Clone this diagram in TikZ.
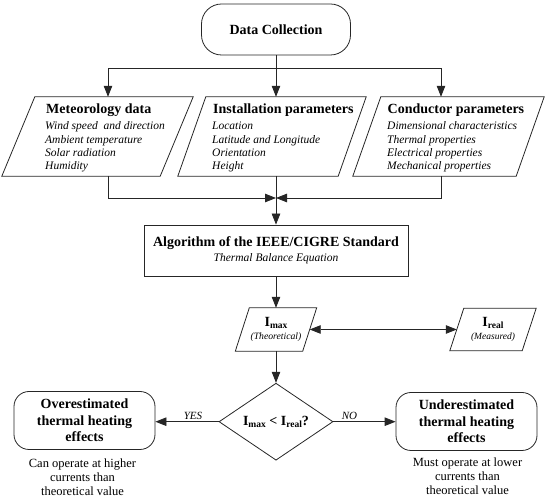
\documentclass[tikz,border=0pt]{standalone}
\usepackage{fontspec}
\setmainfont{Liberation Serif}
\usetikzlibrary{arrows.meta,shapes.geometric,calc}
\newcommand{\ttlfont}{\fontsize{14}{16.5}\selectfont\bfseries}
\newcommand{\itmfont}{\fontsize{11.5}{13.4}\selectfont\itshape}
\newcommand{\lowsub}[1]{\raisebox{-0.3ex}{\fontsize{9.5}{10}\selectfont\bfseries #1}}
\newcommand{\drawpara}[2]{\draw[line] ([xshift=#2]#1.north west) -- (#1.north east) -- ([xshift=-#2]#1.south east) -- (#1.south west) -- cycle;}
\begin{document}
\begin{tikzpicture}[x=1pt,y=-1pt,
  line/.style={draw=black!85, line width=0.8pt},
  arr/.style={line, -{Triangle[length=11pt,width=8.5pt]}},
  dblarr/.style={line, {Triangle[length=11pt,width=8.5pt]}-{Triangle[length=11pt,width=8.5pt]}},
  pbox/.style={rectangle, draw=none, inner sep=0pt, align=center},
  ttl/.style={font=\ttlfont, inner sep=0pt, anchor=base west},
  itm/.style={font=\itmfont, inner sep=0pt, anchor=base west},
  rbox/.style={line, rounded corners=15pt, minimum width=141pt, minimum height=58pt, align=center, font=\fontsize{14}{16.5}\selectfont\bfseries, inner sep=0pt},
  note/.style={align=center, font=\fontsize{12.5}{14}\selectfont, inner sep=0pt},
  lbl/.style={font=\fontsize{11}{12}\selectfont\itshape, inner sep=0pt}
]
\useasboundingbox (0,0) rectangle (550,502);

% top
\node[line, rounded corners=20pt, minimum width=149pt, minimum height=51pt, font=\ttlfont] (dc) at (276,29.5) {Data Collection};

% parallelograms
\node[pbox, minimum width=191pt, minimum height=79pt] (met) at (97.5,136.5) {};
\node[pbox, minimum width=188pt, minimum height=79pt] (ins) at (272,136.5) {};
\node[pbox, minimum width=191pt, minimum height=79pt] (con) at (448.5,136.5) {};
\drawpara{met}{33pt}
\drawpara{ins}{28pt}
\drawpara{con}{28pt}

\node[ttl] (metT) at (46,114) {Meteorology data};
\foreach \t [count=\i] in {Wind speed\ \ and direction, Ambient temperature, Solar radiation, Humidity}
  \node[itm] (metI\i) at (45,130+13.3*\i-13.3) {\t};
\node[ttl] (insT) at (213,114) {Installation parameters};
\foreach \t [count=\i] in {Location, Latitude and Longitude, Orientation, Height}
  \node[itm] (insI\i) at (212,130+13.3*\i-13.3) {\t};
\node[ttl] (conT) at (387.5,114) {Conductor parameters};
\foreach \t [count=\i] in {Dimensional characteristics, Thermal properties, Electrical properties, Mechanical properties}
  \node[itm] (conI\i) at (387,130+13.3*\i-13.3) {\t};

% algorithm
\node[line, minimum width=264pt, minimum height=51pt, align=center, inner sep=0pt] (alg) at (276,250.5)
  {{\ttlfont Algorithm of the IEEE/CIGRE Standard}\\[2.5pt]{\itmfont Thermal Balance Equation}};

% currents
\node[pbox, minimum width=81pt, minimum height=43pt] (imax) at (276,329.5)
  {{\ttlfont I\lowsub{max}}\\[1pt]{\fontsize{9.7}{11}\selectfont\itshape (Theoretical)}};
\node[pbox, minimum width=86pt, minimum height=42pt] (ireal) at (493,329.5)
  {{\ttlfont I\lowsub{real}}\\[1pt]{\fontsize{9.5}{11}\selectfont\itshape (Measured)}};
\drawpara{imax}{14pt}
\drawpara{ireal}{14pt}

% decision
\node[diamond, line, minimum width=114pt, minimum height=77pt, inner sep=0pt, aspect=1.48, font=\ttlfont] (dec) at (276,421.7)
  {I\lowsub{max} < I\lowsub{real}?};

\node[rbox] (over) at (84.5,420.5) {Overestimated\\thermal heating\\effects};
\node[rbox] (under) at (466.5,421.5) {Underestimated\\thermal heating\\effects};

\node[note] (overN) at (82.5,477.5) {Can operate at higher\\currents than\\theoretical value};
\node[note] (underN) at (467.5,476) {Must operate at lower\\currents than\\theoretical value};

\node[lbl] (yes) at (193,415.5) {YES};
\node[lbl] (no) at (349.5,415.5) {NO};

% connectors
\coordinate (split) at (276,68);
\coordinate (merge) at (276,198);
\draw[line] (dc.south) -- (split);
\draw[arr] (split) -| ([xshift=10.5pt]met.north);
\draw[arr] (split) -- (split |- ins.north);
\draw[arr] (split) -| ([xshift=-7.5pt]con.north);
\draw[arr] ([xshift=10.5pt]met.south) |- (merge);
\draw[arr] ([xshift=-7.5pt]con.south) |- (merge);
\draw[arr] (merge |- ins.south) -- (merge |- alg.north);
\draw[arr] (alg) -- (imax);
\draw[arr] (imax) -- (dec);
\draw[dblarr] ([xshift=-7pt]imax.east) -- ([xshift=7pt]ireal.west);
\draw[arr] (dec.west) -- (dec.west -| over.east);
\draw[arr] (dec.east) -- (dec.east -| under.west);
\end{tikzpicture}
\end{document}
